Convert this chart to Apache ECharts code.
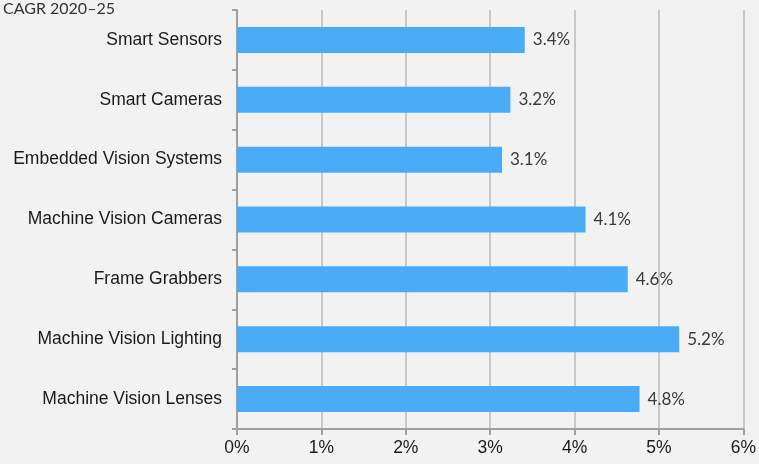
<!DOCTYPE html>
<html>
<head>
<meta charset="utf-8">
<script src="https://cdn.jsdelivr.net/npm/echarts@6/dist/echarts.min.js"></script>
<style>
  html, body { margin: 0; padding: 0; background: #f2f2f2; }
  #chart { width: 759px; height: 464px; }
</style>
</head>
<body>
<div id="chart"></div>
<script>
const categories = [
  'Smart Sensors',
  'Smart Cameras',
  'Embedded Vision Systems',
  'Machine Vision Cameras',
  'Frame Grabbers',
  'Machine Vision Lighting',
  'Machine Vision Lenses'
];
const cagr = [3.41, 3.24, 3.14, 4.13, 4.63, 5.24, 4.77];
const xTicks = [0, 1, 2, 3, 4, 5, 6];

const chart = echarts.init(document.getElementById('chart'));
chart.setOption({
  backgroundColor: '#f2f2f2',
  animation: false,
  title: {
    text: 'CAGR 2020\u201325',
    left: -2,
    top: -4,
    textStyle: { fontFamily: 'Lato', fontSize: 16, fontWeight: 'normal', color: '#333' }
  },
  grid: { left: 237, right: 15, top: 10, bottom: 35, containLabel: false },
  xAxis: {
    type: 'value',
    min: xTicks[0],
    max: xTicks[xTicks.length - 1],
    interval: 1,
    axisLine: { show: true, lineStyle: { color: '#a0a0a0', width: 2 } },
    axisTick: { show: true, length: 6, lineStyle: { color: '#a0a0a0', width: 2 } },
    splitLine: { show: true, lineStyle: { color: '#c8c8c8', width: 2 } },
    axisLabel: {
      formatter: v => v + '%',
      fontFamily: 'Liberation Sans', fontSize: 17.5, color: '#1a1a1a', margin: 10
    }
  },
  yAxis: {
    type: 'category',
    data: categories,
    inverse: true,
    axisLine: { show: true, lineStyle: { color: '#a0a0a0', width: 2 } },
    axisTick: { show: true, length: 5, lineStyle: { color: '#a0a0a0', width: 2 } },
    axisLabel: { fontFamily: 'Liberation Sans', fontSize: 17.5, color: '#1a1a1a', margin: 15 }
  },
  series: [{
    type: 'bar',
    data: cagr,
    barWidth: 26,
    itemStyle: { color: '#4aabf7' },
    label: {
      show: true,
      position: 'right',
      distance: 8,
      formatter: p => p.value.toFixed(1) + '%',
      fontFamily: 'Lato', fontSize: 17, color: '#3a3a3a'
    }
  }]
});
</script>
</body>
</html>
